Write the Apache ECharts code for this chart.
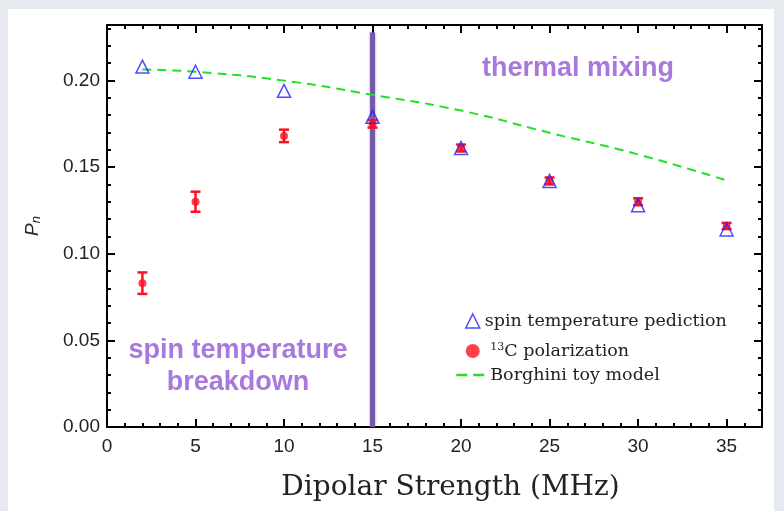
<!DOCTYPE html>
<html>
<head>
<meta charset="utf-8">
<script src="https://cdn.jsdelivr.net/npm/echarts@6/dist/echarts.min.js"></script>
<style>
  html, body { margin: 0; padding: 0; background: #e6e9ee; }
  #chart { width: 784px; height: 511px; }
</style>
</head>
<body>
<div id="chart"></div>
<script>
// dipolar strength (MHz)
const strength = [2, 5, 10, 15, 20, 25, 30, 35];
// spin temperature prediction
const spinTemp = [0.208, 0.205, 0.194, 0.179, 0.161, 0.142, 0.128, 0.114];
// 13C polarization and its error
const polarization = [0.083, 0.130, 0.168, 0.175, 0.161, 0.142, 0.130, 0.116];
const polErr = [0.0062, 0.0058, 0.0036, 0.0022, 0.0020, 0.0020, 0.0020, 0.0018];
// Borghini toy model
const borghini = [0.2063, 0.2050, 0.1999, 0.1917, 0.1826, 0.1698, 0.1573, 0.1423];
// boundary between regimes
const boundaryX = 15;
const boundaryTop = 0.2276;

const chart = echarts.init(document.getElementById('chart'));

const tickFont = { fontFamily: 'Liberation Sans', fontSize: 19, color: '#222' };
const tickLine = { color: '#000', width: 2 };

// major axes live in grid 0, minor-tick axes in grid 1 (same rectangle)
function xAx(grid, pos, interval, len, labels) {
    return {
        type: 'value', gridIndex: grid, position: pos, min: 0, max: 37, interval: interval,
        axisLine: { show: grid === 0, onZero: false, lineStyle: tickLine },
        axisTick: { show: true, inside: true, length: len, lineStyle: tickLine },
        axisLabel: labels ? Object.assign({
            margin: 10,
            formatter: v => (v % 5 === 0 ? String(v) : '')
        }, tickFont) : { show: false },
        splitLine: { show: false }
    };
}
function yAx(grid, pos, interval, len, labels) {
    return {
        type: 'value', gridIndex: grid, position: pos, min: 0, max: 0.232, interval: interval,
        axisLine: { show: grid === 0, onZero: false, lineStyle: tickLine },
        axisTick: { show: true, inside: true, length: len, lineStyle: tickLine },
        axisLabel: labels ? Object.assign({
            margin: 7,
            formatter: v => (Math.abs(v / 0.05 - Math.round(v / 0.05)) < 1e-6 ? v.toFixed(2) : '')
        }, tickFont) : { show: false },
        splitLine: { show: false }
    };
}

const xMain = xAx(0, 'bottom', 5, 8, true);
xMain.name = 'Dipolar Strength (MHz)';
xMain.nameLocation = 'middle';
xMain.nameGap = 47;
xMain.nameTextStyle = { fontFamily: 'DejaVu Serif', fontSize: 28, color: '#222', padding: [0, 0, 0, 32] };

const yMain = yAx(0, 'left', 0.05, 8, true);
yMain.name = '{p|P}{n|n}';
yMain.nameLocation = 'middle';
yMain.nameGap = 64;
yMain.nameTextStyle = {
    rich: {
        p: { fontFamily: 'Liberation Sans', fontStyle: 'italic', fontSize: 19, color: '#222' },
        n: { fontFamily: 'Liberation Sans', fontStyle: 'italic', fontSize: 13, color: '#222', verticalAlign: 'bottom', padding: [7, 0, 0, 0] }
    }
};

const legendText = {
    fontFamily: 'DejaVu Serif', fontSize: 17.5, color: '#222',
    rich: { sup: { fontFamily: 'DejaVu Serif', fontSize: 11, color: '#222', verticalAlign: 'top', padding: [0, 0, 7, 0] } }
};
const gridBox = { left: 107, top: 25, right: 22, bottom: 84 };

chart.setOption({
    animation: false,
    backgroundColor: 'transparent',
    graphic: [
        { type: 'rect', z: -10, shape: { x: 8, y: 9, width: 766, height: 502 }, style: { fill: '#fff' } },
        { type: 'text', z: 10, x: 578, y: 69,
          style: { text: 'thermal mixing', align: 'center', verticalAlign: 'middle', fontFamily: 'Liberation Sans',
                   fontWeight: 'bold', fontSize: 27, fill: '#a878dc' } },
        { type: 'text', z: 10, x: 238, y: 367,
          style: { text: 'spin temperature\nbreakdown', align: 'center', verticalAlign: 'middle', fontFamily: 'Liberation Sans',
                   fontWeight: 'bold', fontSize: 27, lineHeight: 32, fill: '#a878dc' } }
    ],
    grid: [Object.assign({}, gridBox), Object.assign({}, gridBox)],
    xAxis: [xMain, xAx(0, 'top', 5, 8, false), xAx(1, 'bottom', 1, 4, false), xAx(1, 'top', 1, 4, false)],
    yAxis: [yMain, yAx(0, 'right', 0.05, 8, false), yAx(1, 'left', 0.01, 4, false), yAx(1, 'right', 0.01, 4, false)],
    legend: [
        {
            orient: 'vertical', left: 460, top: 307, itemGap: 12, itemWidth: 14, itemHeight: 14,
            textStyle: legendText,
            formatter: n => (n === '13C polarization' ? ' {sup|13}C polarization' : n),
            data: [
                { name: 'spin temperature pediction', icon: 'triangle', itemStyle: { color: '#fff', borderColor: '#2020ff', borderWidth: 1.5 } },
                { name: '13C polarization', icon: 'circle' }
            ]
        },
        {
            orient: 'vertical', left: 450, top: 361, itemWidth: 29, itemHeight: 14,
            textStyle: legendText,
            data: [
                { name: 'Borghini toy model', itemStyle: { color: 'rgba(0,0,0,0)', borderColor: 'rgba(0,0,0,0)' },
                  lineStyle: { color: '#22e022', width: 2.5, type: [11, 6] } }
            ]
        }
    ],
    series: [
        {
            name: 'boundary', type: 'line', z: 3, symbol: 'none', silent: true,
            data: [[boundaryX, 0], [boundaryX, boundaryTop]],
            lineStyle: { color: '#7458aa', width: 5, shadowColor: 'rgba(80,60,120,0.45)', shadowBlur: 3 }
        },
        {
            name: 'Borghini toy model', type: 'line', z: 4, smooth: true, symbol: 'none',
            data: strength.map((x, i) => [x, borghini[i]]),
            lineStyle: { color: '#22e022', width: 2, type: [9, 6] },
            itemStyle: { color: '#22e022' }
        },
        {
            name: 'errbar', type: 'custom', z: 5,
            data: strength.map((x, i) => [x, polarization[i] - polErr[i], polarization[i] + polErr[i]]),
            renderItem: function (params, api) {
                const lo = api.coord([api.value(0), api.value(1)]);
                const hi = api.coord([api.value(0), api.value(2)]);
                const hw = 5;
                const st = { stroke: '#ff1020', lineWidth: 2.5 };
                return {
                    type: 'group', children: [
                        { type: 'line', shape: { x1: lo[0], y1: lo[1], x2: hi[0], y2: hi[1] }, style: st },
                        { type: 'line', shape: { x1: lo[0] - hw, y1: lo[1], x2: lo[0] + hw, y2: lo[1] }, style: st },
                        { type: 'line', shape: { x1: hi[0] - hw, y1: hi[1], x2: hi[0] + hw, y2: hi[1] }, style: st }
                    ]
                };
            }
        },
        {
            name: '13C polarization', type: 'scatter', z: 6, symbol: 'circle', symbolSize: 8,
            data: strength.map((x, i) => [x, polarization[i]]),
            itemStyle: { color: '#ff1020' }
        },
        {
            name: 'spin temperature pediction', type: 'scatter', z: 7, symbol: 'triangle', symbolSize: 13,
            data: strength.map((x, i) => [x, spinTemp[i]]),
            itemStyle: { color: 'rgba(255,255,255,0)', borderColor: '#2020ff', borderWidth: 1.5 }
        }
    ]
});
</script>
</body>
</html>
